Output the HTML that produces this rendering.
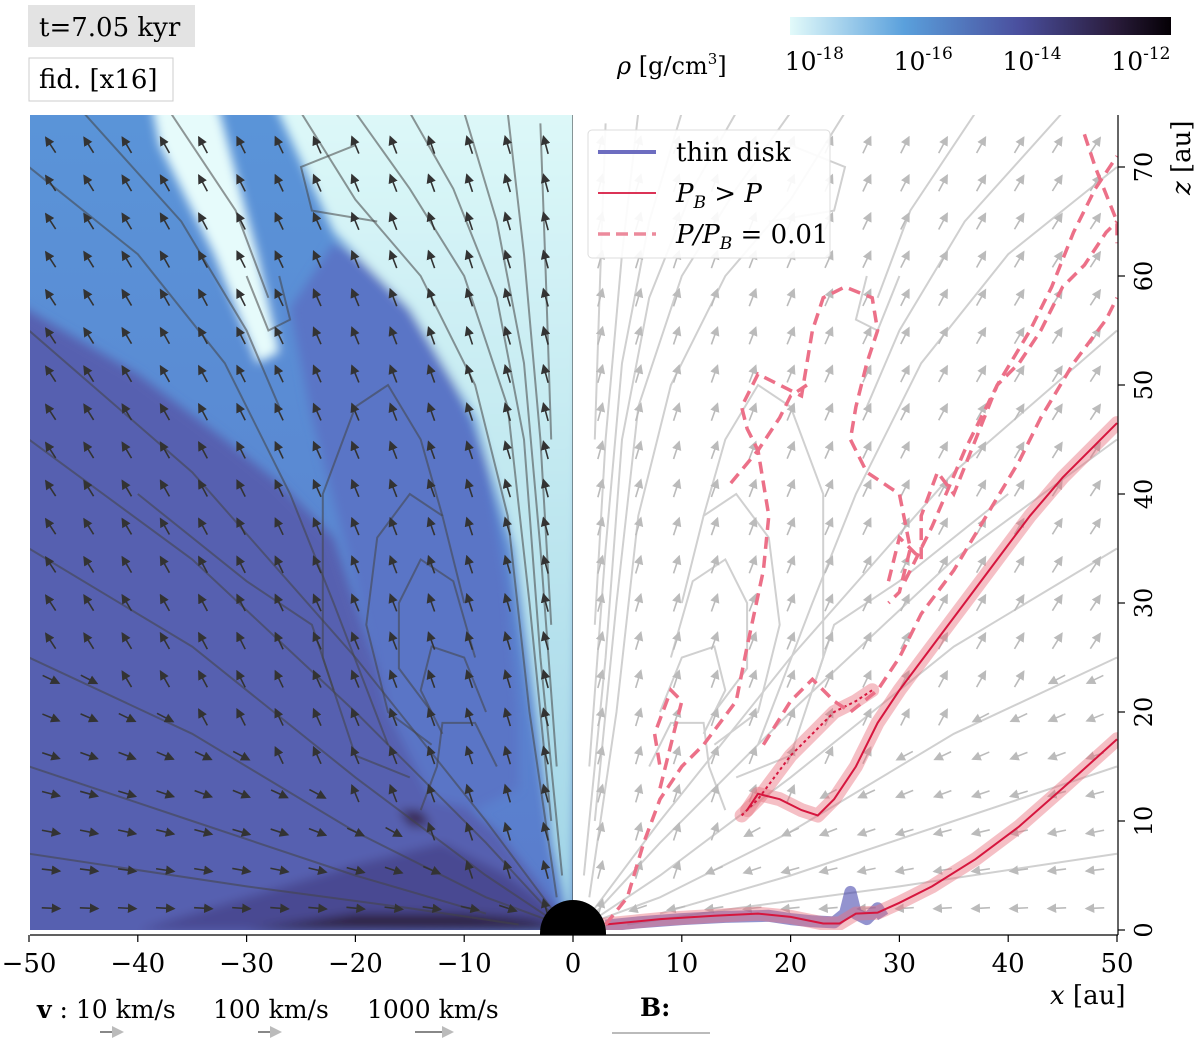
<!DOCTYPE html>
<html><head><meta charset="utf-8"><style>
body{margin:0;background:#fff;}
svg text{font-family:"DejaVu Serif","Liberation Serif",serif;}
</style></head><body>
<svg id="chart" width="1200" height="1042" viewBox="0 0 1200 1042" xmlns="http://www.w3.org/2000/svg">
<defs>
<linearGradient id="cbar" x1="0" x2="1" y1="0" y2="0">
<stop offset="0" stop-color="#e2fafa"/><stop offset="0.3" stop-color="#5aa0dc"/><stop offset="0.6" stop-color="#4a4f9e"/><stop offset="0.85" stop-color="#2a1c3c"/><stop offset="1" stop-color="#050005"/></linearGradient>
<linearGradient id="cyanG" x1="0" x2="0" y1="0" y2="1"><stop offset="0" stop-color="#def9f9"/><stop offset="1" stop-color="#9fd4e6"/></linearGradient>
<linearGradient id="leftG" x1="0" x2="0" y1="0" y2="1"><stop offset="0" stop-color="#5a94d8"/><stop offset="1" stop-color="#5a7ccc"/></linearGradient>
<clipPath id="leftClip"><rect x="30" y="115" width="543" height="815"/></clipPath>
<clipPath id="rightClip"><rect x="573" y="115" width="545" height="815"/></clipPath>
<clipPath id="starClip"><rect x="500" y="850" width="150" height="85"/></clipPath>
<filter id="blur"><feGaussianBlur stdDeviation="5"/></filter>
<marker id="ahD" markerWidth="6" markerHeight="6" refX="5" refY="3" orient="auto"><path d="M0,0L6,3L0,6z" fill="#333"/></marker>
<marker id="ahL" markerWidth="6" markerHeight="6" refX="5" refY="3" orient="auto"><path d="M0,0L6,3L0,6z" fill="#bbb"/></marker>
</defs>
<g id="bg" clip-path="url(#leftClip)"></g>
<g id="streamL" clip-path="url(#leftClip)"></g>
<g id="streamR" clip-path="url(#rightClip)"></g>
<g id="arrows"></g>
<g id="contours" clip-path="url(#rightClip)"></g>
<g id="axes"></g>
<circle cx="573" cy="933" r="33" fill="#000" clip-path="url(#starClip)"/>
<line x1="30" y1="935" x2="1118" y2="935" stroke="#000" stroke-width="1.2"/>
<line x1="1118" y1="115" x2="1118" y2="935" stroke="#000" stroke-width="1.2"/>

<g>
<rect x="588" y="130" width="242" height="128" fill="#fff" fill-opacity="0.9" stroke="#ddd" rx="4"/>
<line x1="598" y1="152" x2="656" y2="152" stroke="#6d6dc0" stroke-width="4"/>
<text x="676" y="161" font-size="26">thin disk</text>
<line x1="598" y1="193" x2="656" y2="193" stroke="#d6163e" stroke-width="1.8"/>
<text x="676" y="202" font-size="26" font-style="italic">P<tspan font-size="17" dy="6">B</tspan><tspan dy="-6" font-style="normal"> &gt; </tspan>P</text>
<line x1="598" y1="234" x2="656" y2="234" stroke="#ec8a9c" stroke-width="3.5" stroke-dasharray="12,6"/>
<text x="676" y="243" font-size="26" font-style="italic">P/P<tspan font-size="17" dy="6">B</tspan><tspan dy="-6" font-style="normal"> = 0.01</tspan></text>
</g>

<rect x="28" y="5" width="167" height="42" fill="#e3e3e3"/>
<text x="39" y="36" font-size="26">t=7.05 kyr</text>
<rect x="29" y="58" width="144" height="43" fill="#fff" stroke="#ccc"/>
<text x="39" y="88" font-size="26">fid. [x16]</text>

<rect x="790" y="17" width="381" height="18" fill="url(#cbar)"/>
<text x="617" y="74" font-size="24"><tspan font-style="italic">ρ</tspan> [g/cm<tspan font-size="15" dy="-10">3</tspan><tspan dy="10">]</tspan></text>
<g id="cbticks" font-size="25"></g>

<g font-size="25">
<text x="37" y="1018"><tspan font-weight="bold">v</tspan> :  10 km/s</text>
<text x="213" y="1018">100 km/s</text>
<text x="367" y="1018">1000 km/s</text>
<line x1="100" y1="1032" x2="122" y2="1032" stroke="#888" stroke-width="2" marker-end="url(#ahL)"/>
<line x1="258" y1="1032" x2="280" y2="1032" stroke="#888" stroke-width="2" marker-end="url(#ahL)"/>
<line x1="415" y1="1032" x2="452" y2="1032" stroke="#888" stroke-width="2" marker-end="url(#ahL)"/>
<text x="640" y="1016" font-weight="bold">B:</text>
<line x1="612" y1="1033" x2="710" y2="1033" stroke="#bbb" stroke-width="2"/>
</g>
<text x="1050" y="1004" font-size="26"><tspan font-style="italic">x</tspan> [au]</text>
<text transform="translate(1190,195) rotate(-90)" font-size="26"><tspan font-style="italic">z</tspan> [au]</text>

<script>
const xTicks=[-50,-40,-30,-20,-10,0,10,20,30,40,50];
const zTicks=[0,10,20,30,40,50,60,70];
const cbExps=[-18,-16,-14,-12];
const cbMin=-18.3, cbMax=-11.3;
const diskX=[3,6,10,14,18,20,22,24,25,25.5,26,27,28,28.5];
const diskZ=[0.4,0.7,1.0,1.2,1.3,1.0,0.8,0.7,1.5,3.5,1.5,1.0,2.0,1.2];
const pbLowX=[3,8,13,17,20,23,24.5,26,28,30,33,37,41,45,50];
const pbLowZ=[0.5,1.0,1.3,1.5,1.2,0.6,0.6,1.5,1.6,2.5,4,6.5,9.5,13,17.5];
const pbUpX=[16,17,19,21,22.5,24,26,28,30,33,36,39,42,45,48,50];
const pbUpZ=[11,12.5,12,11,10.5,12,15,19,22,26,30,34,38,41.5,44.5,46.5];
const pbMidX=[15.5,17,20,22,24,26,27.5];
const pbMidZ=[10.5,12,16,18,20,21,22];
const dashAX=[3,5,6.5,8,10,12,13.5,15,16,17.5,18,17,16,15.5,17,21,22,23,25,27.5,28,27,26,25.5,27,30,31,30,29];
const dashAZ=[0.5,3,8,12,15,17,19,21,26,33,38,44,46,48,51,49,55,58,59,58,55,52,48,45,42,40,35,31,30];
const dashBX=[17.5,20,22,24,25.5,28,30,32,35,38,41,43,46,49,50];
const dashBZ=[17,21,23,21,20,22,25,29,33,38,43,47,52,56,58];
const dashCX=[29,30,32,32,33.5,35,37,39,41,43,44,45,47,49,50];
const dashCZ=[32,36,34,38,42,40,45,50,52,55,57,59,61,64,65];
const dashDX=[30.5,31,33,36,39,42,44,46,48,50];
const dashDZ=[32,33,37,44,50,55,59,64,68,71];
const dashEX=[8,9,10,9,7.5,8];
const dashEZ=[13,17,21,22,18,15];
const dashFX=[47,48,50,50];
const dashFZ=[73,70,65,63];
const dashGX=[14.5,17,19,20,21.5];
const dashGZ=[41,44,47,49,50];

const X=x=>573+x*10.88, Z=z=>930-z*10.9;
const NS='http://www.w3.org/2000/svg';
function mk(tag,attrs,parent){const e=document.createElementNS(NS,tag);for(const k in attrs)e.setAttribute(k,attrs[k]);parent.appendChild(e);return e;}
function pathOf(xs,zs,m){return xs.map((x,i)=>(i?'L':'M')+X(m*x).toFixed(1)+','+Z(zs[i]).toFixed(1)).join('');}

const bg=document.getElementById('bg');
mk('rect',{x:30,y:115,width:543,height:815,fill:'url(#leftG)'},bg);
const gb=mk('g',{filter:'url(#blur)'},bg);
const polys=[
 ['#5760b0',[[-52,58],[-40,51],[-32,45],[-27,41],[-22,36],[-19,27],[-16,18],[-12,13],[-7,9],[-3,4],[0,0],[-52,-2]]],
 ['#5a74c6',[[-26,57],[-22,63],[-17,60],[-12,53],[-8,43],[-6,31],[-5,20],[-5,13],[-9,11],[-13,12],[-17,20],[-20,32],[-24,47]]],
 ['#4a4a92',[[-40,0],[-20,6],[-12,8],[-6,5],[-2,2],[0,0]]],
 ['url(#cyanG)',[[-28,77],[-22,64],[-15,57],[-9,47],[-5.5,35],[-3.5,20],[-2,8],[-0.5,1],[0,0],[1,77]]],
 ['#e6fbfb',[[-39,77],[-33,77],[-29,62],[-27,53],[-29,52],[-33,62],[-38,72]]],
 ['#2e2040',[[-30,0],[-20,1.5],[-10,1.5],[-4,1],[0,0]]],
 ['#3a2a55',[[-16,11],[-14,11],[-13,9.5],[-15,9.5]]]
];
polys.forEach(p=>{mk('polygon',{fill:p[0],points:p[1].map(q=>X(q[0])+','+Z(q[1])).join(' ')},gb);});
mk('line',{x1:573,y1:115,x2:573,y2:930,stroke:'#333','stroke-width':1},bg);

const streams=[
 [[-50,55],[-35,42],[-20,25],[-8,10],[-2,2]],
 [[-50,45],[-35,34],[-20,20],[-8,8],[-2,1.5]],
 [[-50,35],[-35,26],[-20,14],[-8,5],[-2,1]],
 [[-50,25],[-35,18],[-20,9],[-8,3],[-2,0.8]],
 [[-50,15],[-35,10],[-20,5],[-8,1.5]],
 [[-50,7],[-30,4],[-15,2],[-5,0.5]],
 [[-50,70],[-40,62],[-32,52],[-26,40],[-22,30],[-17,17]],
 [[-45,75],[-36,65],[-30,55],[-27,48]],
 [[-37,75],[-31,66],[-28,58]],
 [[-25,75],[-20,67],[-14,60],[-9,50],[-6,38],[-4,20],[-1.5,3]],
 [[-20,75],[-15,68],[-10,60],[-6,48],[-4,30],[-2,10]],
 [[-15,75],[-11,68],[-7,58],[-4.5,45],[-3,25],[-1,5]],
 [[-10,75],[-7,65],[-4.5,52],[-3,35],[-1.5,15]],
 [[-6,75],[-4.5,62],[-3,45],[-2,28]],
 [[-3,74],[-2.5,60],[-2,45]],
 [[-12,38],[-14,45],[-17,50],[-20,48],[-23,40],[-23,25],[-20,16],[-15,14]],
 [[-10,30],[-12,38],[-15,40],[-18,36],[-19,28],[-17,20],[-13,17]],
 [[-9,25],[-11,32],[-14,34],[-16,30],[-16,24],[-13,20]],
 [[-8,20],[-10,25],[-13,26],[-14,22],[-12,18]],
 [[-7,15],[-9,19],[-12,19],[-12.5,15],[-14,11]],
 [[-30,60],[-28,55],[-26,56],[-27,60]],
 [[-20,72],[-25,70],[-24,66],[-18,65]],
 [[-40,40],[-30,32],[-24,28],[-22,22]],
];
const sL=document.getElementById('streamL'), sR=document.getElementById('streamR');
streams.forEach(s=>{
 const xs=s.map(p=>p[0]), zs=s.map(p=>p[1]);
 const a=mk('path',{d:pathOf(xs,zs,1),fill:'none',stroke:'#444','stroke-opacity':0.55,'stroke-width':2},sL);
 
 
 const b=mk('path',{d:pathOf(xs,zs,-1),fill:'none',stroke:'#d0d0d0','stroke-width':2},sR);
 
 
});

const ar=document.getElementById('arrows');
for(let gx=-48;gx<=-1;gx+=3.5){for(let gz=2;gz<=73;gz+=3.5){
 let ang;
 if(gz < -gx*0.55){ang=Math.atan2(-gz,-gx);} else {ang=Math.atan2(1,-0.25-(-gx)/120);}
 const L=9;
 const dx=Math.cos(ang)*L, dz=Math.sin(ang)*L;
 [[1,'#333','url(#ahD)'],[-1,'#bbb','url(#ahL)']].forEach(([m,c,mk2])=>{
  const x0=X(m*gx), y0=Z(gz);
  const l=mk('line',{x1:x0-m*dx,y1:y0+dz,x2:x0+m*dx,y2:y0-dz,stroke:c,'stroke-width':1.6,'marker-end':mk2},ar);
  
  
 });
}}

const ct=document.getElementById('contours');
function band(xs,zs){const p=mk('path',{d:pathOf(xs,zs,1),fill:'none',stroke:'#e8707f','stroke-opacity':0.45,'stroke-width':14,'stroke-linejoin':'round','stroke-linecap':'round'},ct);}
function line(xs,zs,st,w,dash,name){const p=mk('path',{d:pathOf(xs,zs,1),fill:'none',stroke:st,'stroke-width':w,'stroke-dasharray':dash||'none'},ct);}
const diskP=mk('path',{d:pathOf(diskX,diskZ,1),fill:'none',stroke:'#3a3aa8','stroke-opacity':0.55,'stroke-width':12,'stroke-linejoin':'round'},ct);


band(pbLowX,pbLowZ);band(pbUpX,pbUpZ);band(pbMidX,pbMidZ);
line(pbLowX,pbLowZ,'#d6163e',2,null,'pb-gt-p-lower');
line(pbUpX,pbUpZ,'#d6163e',2,null,'pb-gt-p-upper');
line(pbMidX,pbMidZ,'#d6163e',2,'3,3','pb-gt-p-mid');
[[dashAX,dashAZ],[dashBX,dashBZ],[dashCX,dashCZ],[dashDX,dashDZ],[dashEX,dashEZ],[dashFX,dashFZ],[dashGX,dashGZ]].forEach(d=>line(d[0],d[1],'#ec7088',3.5,'12,7','p-over-pb-contour'));

const ax=document.getElementById('axes');
xTicks.forEach(t=>{mk('line',{x1:X(t),y1:935,x2:X(t),y2:942,stroke:'#000','stroke-width':1.2},ax);
 const tx=mk('text',{x:X(t),y:972,'font-size':26,'text-anchor':'middle'},ax);tx.textContent=(t<0?'\u2212'+(-t):t);
 });
zTicks.forEach(t=>{mk('line',{x1:1118,y1:Z(t),x2:1125,y2:Z(t),stroke:'#000','stroke-width':1.2},ax);
 const tx=mk('text',{transform:`translate(1152,${Z(t)}) rotate(-90)`,'font-size':24,'text-anchor':'middle'},ax);tx.textContent=t;
 });
const cb=document.getElementById('cbticks');
cbExps.forEach(e=>{const x=790+(e-cbMin)/(cbMax-cbMin)*381;
 const t=mk('text',{x:x+8,y:70,'text-anchor':'middle'},cb);
 
 
 const a=mk('tspan',{},t);a.textContent='10';
 const b=mk('tspan',{'font-size':17,dy:-11},t);b.textContent=String(e);
});
</script>
</svg>
</body></html>
